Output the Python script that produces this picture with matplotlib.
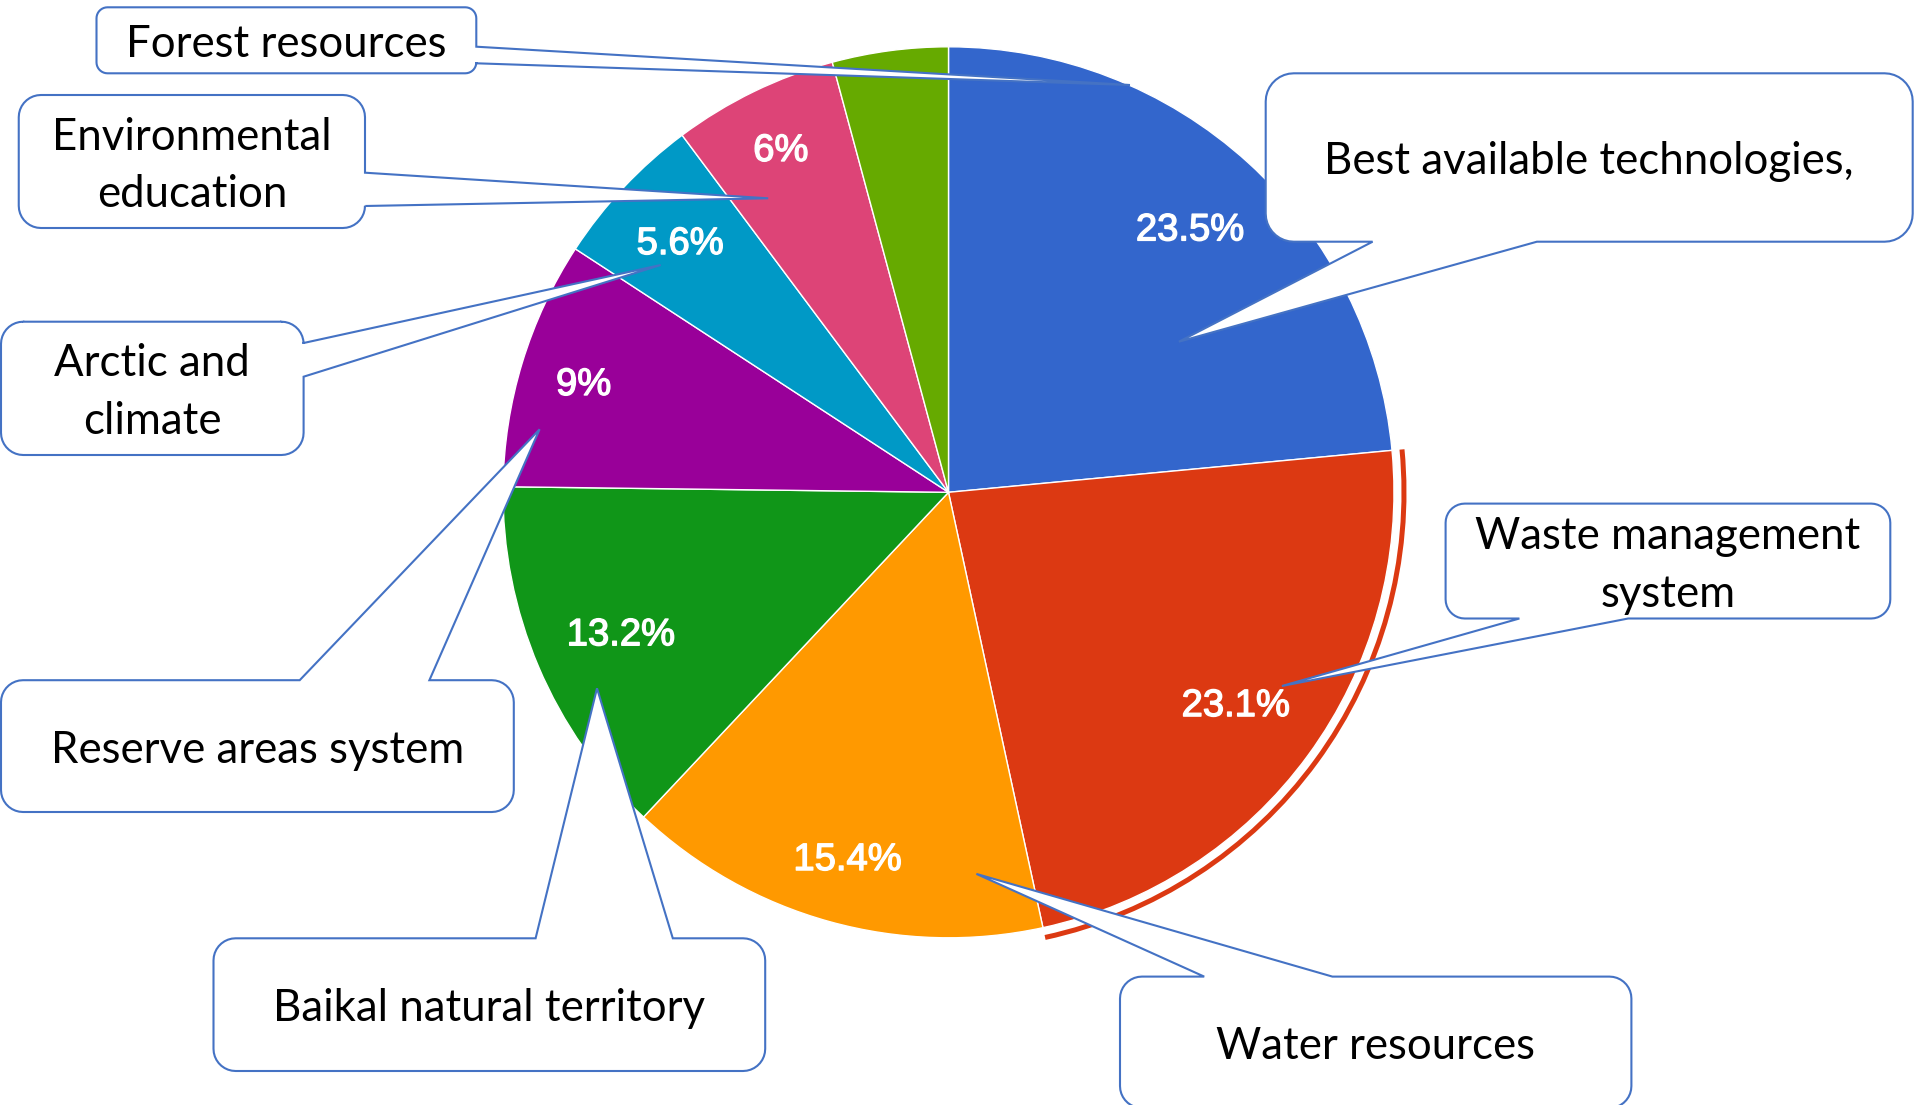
import numpy as np
import matplotlib
matplotlib.use("Agg")
import matplotlib.pyplot as plt
from matplotlib.patches import Polygon, Wedge
import matplotlib.patheffects as pe

# ---------------- data ----------------
categories = ["Best available technologies", "Waste management system", "Water resources",
              "Baikal natural territory", "Reserve areas system", "Arctic and climate",
              "Environmental education", "Forest resources"]
values = [23.5, 23.1, 15.4, 13.2, 9.0, 5.6, 6.0, 4.2]
slice_colors = ["#3366CC", "#DC3912", "#FF9900", "#109618",
                "#990099", "#0099C6", "#DD4477", "#66AA00"]
callout_texts = ["Best available technologies,", "Waste management\nsystem", "Water resources",
                 "Baikal natural territory", "Reserve areas system", "Arctic and\nclimate",
                 "Environmental\neducation", "Forest resources"]
highlighted = "Waste management system"

# ---------------- layout (pixels, y measured downward) ----------------
W, H = 1915, 1105
CX, CY_DOWN, R = 948.5, 492.3, 445.5
label_radius = [0.806, 0.799, 0.848, 0.799, 0.856, 0.826, 0.861, 0.85]
min_label_value = 5.0

# box (x0, y0, x1, y1), wedge side, wedge base (a, b), tip (x, y)
callout_layout = [
    ((1265.7, 73.3, 1912.7, 241.7), "bottom", (1372.6, 1536.9), (1178.9, 341.7)),
    ((1445.6, 503.6, 1890.3, 618.5), "bottom", (1519.4, 1628.2), (1281.9, 686.0)),
    ((1120.0, 976.6, 1631.4, 1108.0), "top", (1204.2, 1332.4), (976.4, 873.9)),
    ((213.5, 938.3, 765.2, 1071.0), "top", (535.6, 672.8), (597.0, 688.3)),
    ((1.0, 680.2, 513.8, 812.0), "top", (299.7, 429.4), (539.6, 429.3)),
    ((1.0, 321.7, 303.6, 455.0), "right", (343.0, 376.7), (660.7, 265.0)),
    ((18.75, 95.0, 365.0, 228.0), "right", (172.7, 206.0), (768.2, 198.3)),
    ((96.5, 7.3, 476.3, 73.3), "right", (46.7, 63.3), (1130.0, 85.0)),
]
EDGE = "#4472C4"
BOX_FONT = "Lato"
BOX_SIZE = 31.5
LINE_STEP = 57.5
BASE_OFF = 16.8
PCT_FONT = "Liberation Sans"
PCT_SIZE = 27.5


def arc(cx, cy, r, t0, t1, n=10):
    t = np.radians(np.linspace(t0, t1, n))
    return [(cx + r * np.cos(a), cy + r * np.sin(a)) for a in t]


def callout_path(box, side, base, tip):
    x0, y0, x1, y1 = box
    r = min(x1 - x0, y1 - y0) / 6.0
    a, b = base
    pts = [(x0 + r, y0)]
    if side == "top":
        pts += [(a, y0), tip, (b, y0)]
    pts += [(x1 - r, y0)]
    pts += arc(x1 - r, y0 + r, r, 270, 360)
    if side == "right":
        pts += [(x1, a), tip, (x1, b)]
    pts += [(x1, y1 - r)]
    pts += arc(x1 - r, y1 - r, r, 0, 90)
    if side == "bottom":
        pts += [(b, y1), tip, (a, y1)]
    pts += [(x0 + r, y1)]
    pts += arc(x0 + r, y1 - r, r, 90, 180)
    if side == "left":
        pts += [(x0, b), tip, (x0, a)]
    pts += [(x0, y0 + r)]
    pts += arc(x0 + r, y0 + r, r, 180, 270)
    return [(x, H - y) for x, y in pts]


fig = plt.figure(figsize=(W / 100, H / 100), dpi=100)
ax = fig.add_axes([0, 0, 1, 1])

cx, cy = CX, H - CY_DOWN
wedges, _ = ax.pie(values, colors=slice_colors, startangle=90, counterclock=False,
                   center=(cx, cy), radius=R,
                   wedgeprops=dict(edgecolor="white", linewidth=1.0))
ax.set_xlim(0, W)
ax.set_ylim(0, H)
ax.set_aspect("equal")
ax.axis("off")

# highlight ring around the selected slice
for w, cat, col in zip(wedges, categories, slice_colors):
    if cat == highlighted:
        ax.add_patch(Wedge((cx, cy), R + 12.5, w.theta1, w.theta2, width=5,
                           facecolor=col, edgecolor="none", zorder=2))

# percentage labels
em_px = PCT_SIZE * 100 / 72
for w, v, rf in zip(wedges, values, label_radius):
    if v < min_label_value:
        continue
    mid = np.radians((w.theta1 + w.theta2) / 2)
    x = cx + rf * R * np.cos(mid)
    y = cy + rf * R * np.sin(mid) - 0.358 * em_px
    ax.text(x, y, f"{v:g}%", color="white", fontsize=PCT_SIZE, family=PCT_FONT,
            ha="center", va="baseline", zorder=3,
            path_effects=[pe.withStroke(linewidth=1.0, foreground="white")])

# callouts
for text, (box, side, base, tip) in zip(callout_texts, callout_layout):
    poly = Polygon(callout_path(box, side, base, tip), closed=True, facecolor="white",
                   edgecolor=EDGE, linewidth=1.5, zorder=5, clip_on=True)
    ax.add_patch(poly)
    lines = text.split("\n")
    n = len(lines)
    xc = (box[0] + box[2]) / 2
    yc = (box[1] + box[3]) / 2
    for i, line in enumerate(lines):
        yb = yc + BASE_OFF + (i - (n - 1) / 2) * LINE_STEP
        ax.text(xc, H - yb, line, fontsize=BOX_SIZE, family=BOX_FONT, color="black",
                ha="center", va="baseline", zorder=6)

fig.savefig("out.png", dpi=100)
